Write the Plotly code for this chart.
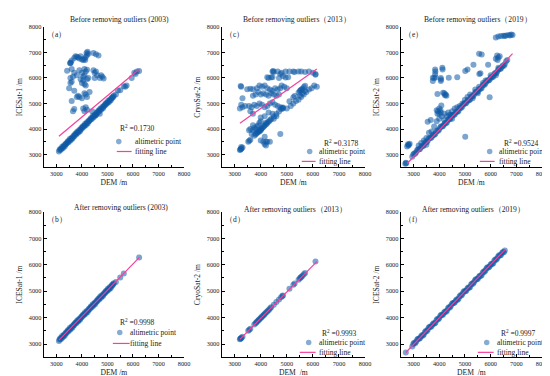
import plotly.graph_objects as go

SERIF = "Liberation Serif, Times New Roman, serif"

# ---------------- text ----------------
titles = ["Before removing outliers (2003)", "Before removing outliers（2013）", "Before removing outliers（2019）",
          "After removing outliers (2003)", "After removing outliers（2013）", "After removing outliers（2019）"]
panel_labels = ["（a）", "（c）", "（e）", "（b）", "（d）", "（f）"]
y_titles = ["ICESat-1 /m", "CryoSat-2 /m", "ICESat-2 /m", "ICESat-1 /m", "CryoSat-2 /m", "ICESat-2 /m"]
x_titles = ["DEM /m", "DEM /m", "DEM /m", "DEM /m", "DEM  /m", "DEM  /m"]
r2_values = ["0.1730", "0.3178", "0.9524", "0.9998", "0.9993", "0.9997"]
legend_names = ["altimetric point", "fitting line"]
tick_values = [3000, 4000, 5000, 6000, 7000, 8000]
axis_range = [2500, 8000]

# ---------------- 2003 ICESat-1 ----------------
dem_2003_kept = [3100, 3150, 3200, 3250, 3300, 3350, 3400, 3450, 3500, 3550, 3600, 3650, 3700, 3750, 3800,
                 3850, 3900, 3950, 4000, 4050, 4100, 4150, 4200, 4250, 4300, 4350, 4400, 4450, 4500, 4550,
                 4600, 4650, 4700, 4750, 4800, 4850, 4900, 4950, 5000, 5050, 5100, 5150, 5200, 5250,
                 5330, 5500, 5640, 6240,
                 3125, 3175, 3225, 3275, 3325, 3375, 3425, 3475, 3525, 3575, 3625, 3675, 3725, 3775, 3825,
                 3875, 3925, 3975, 4025, 4075, 4125, 4175, 4225, 4275, 4325, 4375, 4425, 4475, 4525, 4575,
                 4625, 4675, 4725, 4775, 4825, 4875, 4925, 4975, 5025, 5075, 5125, 5175, 5225]
alt_2003_kept = [3120, 3220, 3240, 3250, 3360, 3380, 3420, 3520, 3540, 3550, 3660, 3680, 3720, 3820, 3840,
                 3850, 3960, 3980, 4020, 4120, 4140, 4150, 4260, 4280, 4320, 4420, 4440, 4450, 4560, 4580,
                 4620, 4720, 4740, 4750, 4860, 4880, 4920, 5020, 5040, 5050, 5160, 5180, 5220, 5300,
                 5350, 5520, 5670, 6270,
                 3175, 3185, 3305, 3305, 3315, 3435, 3475, 3485, 3605, 3605, 3615, 3735, 3775, 3785, 3905,
                 3905, 3915, 4035, 4075, 4085, 4205, 4205, 4215, 4335, 4375, 4385, 4505, 4505, 4515, 4635,
                 4675, 4685, 4805, 4805, 4815, 4935, 4975, 4985, 5105, 5105, 5115, 5235, 5275]
dem_2003_outliers = [3700, 3750, 3800, 3850, 3900, 3950, 4000, 4050, 4100, 4150, 4200, 4220, 4180, 4130, 4250,
                     4450, 4550, 4650, 3600, 3550, 3560, 3540, 3420, 3600, 3700, 3650, 3550, 3800, 3900, 4000,
                     4050, 4050, 4100, 4150, 4200, 4250, 4200, 4100, 3950, 4000, 4100, 4150, 4450, 4500, 4550,
                     4600, 4500, 4700, 4800, 4850, 4750, 3500, 3550, 3600, 3700, 3600, 3650, 3700, 3850, 3900,
                     3800, 4000, 4150, 4200, 4100, 4300, 4050, 4100, 4150, 4200, 4400, 4550, 4700, 5750, 5700,
                     6050, 6150, 6100, 5950, 5410]
alt_2003_outliers = [6780, 6850, 6830, 6800, 6760, 6850, 6720, 6700, 6750, 6820, 6900, 7020, 6980, 6700, 6950,
                     6980, 6930, 6880, 6680, 6580, 6600, 6570, 6280, 6350, 6200, 6050, 6000, 6100, 6300, 6200,
                     6050, 5900, 6100, 6250, 5950, 6000, 6320, 6350, 5950, 5800, 5750, 5700, 6300, 6200, 6250,
                     6100, 6000, 6000, 6050, 5980, 6100, 5600, 5800, 5850, 5500, 5100, 4700, 4780, 5300, 5250,
                     5250, 5200, 5350, 5250, 5400, 5450, 4800, 4700, 4850, 4750, 4700, 4550, 4600, 5700, 5650,
                     6200, 6250, 6150, 6000, 5510]
fit_2003_before_dem = [3100, 6250]
fit_2003_before_alt = [3720, 6350]
fit_2003_after_dem = [3100, 6250]
fit_2003_after_alt = [3150, 6280]

# ---------------- 2013 CryoSat-2 ----------------
dem_2013_kept = [3200, 3220, 3240, 3260, 3300, 3520, 3560, 3600, 3750, 3800, 3830, 3860, 3900, 3930, 3960,
                 4000, 4030, 4060, 4100, 4130, 4160, 4200, 4240, 4280, 4320, 4360, 4400, 4500, 4600, 4700,
                 4780, 4830, 4850, 5100, 5250, 5300, 5450, 5500, 5530, 5560, 5600, 5650, 5700, 6100]
alt_2013_kept = [3180, 3200, 3220, 3240, 3280, 3500, 3540, 3580, 3740, 3790, 3820, 3850, 3880, 3920, 3950,
                 3990, 4010, 4050, 4080, 4120, 4150, 4190, 4220, 4270, 4300, 4350, 4390, 4490, 4590, 4690,
                 4770, 4820, 4840, 5090, 5240, 5290, 5430, 5490, 5520, 5550, 5580, 5640, 5690, 6120]
dem_2013_outliers = [4450, 4480, 4500, 4650, 4800, 4950, 5100, 5250, 5300, 5450, 5550, 5700, 5850, 6000, 6100,
                     4750, 4850, 4950, 5050, 4700, 4450, 4400, 4250, 4300,
                     3250, 3230, 3480, 3600, 3700, 3850, 3950, 4050, 4150, 4250, 4350, 4450, 4550, 4650, 4750,
                     4800, 4900, 5000, 3900, 4000, 4100, 4200, 4300, 4400, 4500, 4600, 4700, 3800, 3700,
                     3200, 3300, 3250, 3400, 3550, 3650, 3750, 3850, 3950, 4050, 4150, 4250, 4350, 4450, 4550,
                     4650, 4750, 4850, 3300, 3600, 3700, 4150, 4300, 4450, 4500, 4600,
                     5000, 5150, 5250, 5350, 5450, 5550, 5650, 5750, 5850, 5950, 6050, 6150, 5500, 5600, 5700,
                     3800, 3850, 3900, 3950, 4000, 3700, 3750, 3650, 4000, 3950, 4000, 4200, 3700, 3600, 3550,
                     3250, 4000, 4100, 4200, 4250, 4350, 4150, 4200, 4150, 4750]
alt_2013_outliers = [6250, 6270, 6230, 6250, 6200, 6250, 6250, 6250, 6230, 6250, 6250, 6230, 6250, 6200, 6150,
                     6150, 6080, 6020, 6030, 6000, 6030, 6030, 6030, 6000,
                     5650, 5680, 5560, 5580, 5560, 5600, 5700, 5650, 5700, 5600, 5550, 5500, 5600, 5550, 5600,
                     5700, 5650, 5600, 5450, 5350, 5400, 5350, 5300, 5400, 5350, 5300, 5350, 5350, 5300,
                     4800, 4850, 4950, 4900, 4900, 4850, 4950, 4900, 5000, 4950, 4850, 4900, 5000, 5050, 4950,
                     4900, 4850, 4800, 5200, 4700, 4600, 4500, 4650, 4600, 4400, 4500,
                     4800, 4900, 5000, 5100, 5150, 5250, 5350, 5450, 5550, 5600, 5700, 5650, 5300, 5400, 5500,
                     4000, 4100, 4150, 4250, 4300, 3950, 4050, 3800, 3950, 3900, 4450, 4250, 4150, 4000, 3950,
                     3300, 3550, 3500, 3500, 3500, 3500, 3400, 3350, 3700, 3800]
fit_2013_before_dem = [3200, 6150]
fit_2013_before_alt = [4230, 6350]
fit_2013_after_dem = [3200, 6150]
fit_2013_after_alt = [3180, 6120]

# ---------------- 2019 ICESat-2 ----------------
dem_2019_kept = [2700, 2950, 3025, 3100, 3175, 3250, 3325, 3400, 3475, 3550, 3625, 3700, 3775, 3850, 3925,
                 4000, 4075, 4150, 4225, 4300, 4375, 4450, 4525, 4600, 4675, 4750, 4825, 4900, 4975, 5050,
                 5125, 5200, 5275, 5350, 5425, 5500, 5575, 5650, 5725, 5800, 5875, 5950, 6025, 6100, 6175,
                 6250, 6325, 6400, 6475, 6550,
                 2990, 3065, 3140, 3215, 3290, 3365, 3440, 3515, 3590, 3665, 3740, 3815, 3890, 3965, 4040,
                 4115, 4190, 4265, 4340, 4415, 4490, 4565, 4640, 4715, 4790, 4865, 4940, 5015, 5090, 5165,
                 5240, 5315, 5390, 5465, 5540, 5615, 5690, 5765, 5840, 5915, 5990, 6065, 6140, 6215, 6290,
                 6365, 6440, 6515]
alt_2019_kept = [2680, 2910, 3045, 3090, 3205, 3220, 3335, 3360, 3495, 3540, 3655, 3670, 3785, 3810, 3945,
                 3990, 4105, 4120, 4235, 4260, 4395, 4440, 4555, 4570, 4685, 4710, 4845, 4890, 5005, 5020,
                 5135, 5160, 5295, 5340, 5455, 5470, 5585, 5610, 5745, 5790, 5905, 5920, 6035, 6060, 6195,
                 6240, 6355, 6370, 6485, 6540,
                 3000, 3035, 3165, 3200, 3290, 3325, 3450, 3485, 3615, 3650, 3740, 3775, 3900, 3935, 4065,
                 4100, 4190, 4225, 4350, 4385, 4515, 4550, 4640, 4675, 4800, 4835, 4965, 5000, 5090, 5125,
                 5250, 5285, 5415, 5450, 5540, 5575, 5700, 5735, 5865, 5900, 5990, 6025, 6150, 6185, 6315,
                 6350, 6440, 6475]
dem_2019_outliers = [6200, 6300, 6400, 6500, 6550, 6600, 6700, 6800, 6850, 6750,
                     5550, 5650, 6250, 6300, 6200, 6270, 6350,
                     5330, 5900, 5010, 5100, 5560, 5600, 4370, 4700,
                     3840, 3850, 3840, 3750, 3800, 3860, 4060, 4070, 4060, 4120, 4130, 3750,
                     3930, 4150, 4200, 4250, 4280, 4220,
                     4080, 4050, 4060, 4000, 3930, 3900, 3950, 4000,
                     3600, 3800, 3900, 4000, 4100, 4200, 4350, 4500, 4600, 4300, 4450, 3550, 3670,
                     5960, 5010,
                     2780, 2800, 2820, 2750, 2850,
                     6600, 6650, 5300, 5550, 5800, 4900, 5200, 3300, 3500, 4700, 5000, 2680, 2720,
                     3200, 3400, 3700, 4200, 4400, 4800, 5100, 5400, 5700, 6000, 6300, 3500, 4500, 5500, 6200]
alt_2019_outliers = [7580, 7620, 7640, 7650, 7640, 7660, 7680, 7700, 7680, 7660,
                     6950, 6920, 6880, 6800, 6750, 6700, 6850,
                     6520, 6520, 6270, 6330, 6150, 6180, 6010, 6030,
                     6330, 6250, 6140, 6010, 6000, 6020, 6000, 5940, 5880, 6400, 6330, 5880,
                     5370, 5420, 5400, 5350, 5300, 5320,
                     4920, 4730, 4650, 4600, 4600, 4730, 4700, 4800,
                     3850, 4100, 4300, 4400, 4500, 4600, 4650, 4700, 4800, 4500, 4550, 4280, 4350,
                     5240, 3700,
                     3400, 3350, 3380, 3320, 3420,
                     6650, 6700, 5200, 5650, 5900, 5000, 5350, 3450, 3650, 4850, 5150, 2640, 2660,
                     3350, 3550, 3900, 4350, 4550, 4900, 5250, 5550, 5800, 6100, 6400, 3380, 4400, 5400, 6100]
fit_2019_before_dem = [2750, 6850]
fit_2019_before_alt = [2650, 6950]
fit_2019_after_dem = [2700, 6550]
fit_2019_after_alt = [2680, 6560]

# ---------------- assemble panels (order: a, c, e, b, d, f) ----------------
panels = [
    (dem_2003_kept + dem_2003_outliers, alt_2003_kept + alt_2003_outliers, fit_2003_before_dem, fit_2003_before_alt),
    (dem_2013_kept + dem_2013_outliers, alt_2013_kept + alt_2013_outliers, fit_2013_before_dem, fit_2013_before_alt),
    (dem_2019_kept + dem_2019_outliers, alt_2019_kept + alt_2019_outliers, fit_2019_before_dem, fit_2019_before_alt),
    (dem_2003_kept, alt_2003_kept, fit_2003_after_dem, fit_2003_after_alt),
    (dem_2013_kept, alt_2013_kept, fit_2013_after_dem, fit_2013_after_alt),
    (dem_2019_kept, alt_2019_kept, fit_2019_after_dem, fit_2019_after_alt),
]

W, H = 550, 376
col_px = [(36, 178), (216, 361), (397, 540)]
row_px = [(15, 157), (202, 349)]
title_px = [(113, 8), (292, 8), (475, 8), (114, 198), (291, 200), (471, 200)]
# legend layout in pixels: (R2 text left, R2 y, marker cx, marker cy, item text left, line x0, line x1, line y)
legend_px = [(112, 117, 112, 131, 127, 110, 125, 141),
             (318, 132, 305, 141, 313, 297, 311, 151),
             (500, 132, 487, 141, 495, 477, 492, 151),
             (112, 313, 113, 324, 122, 106, 123, 335),
             (316, 324, 304, 334, 313, 295, 311, 344),
             (497, 324, 484, 334, 493, 475, 491, 344)]

POINT_COLOR = "rgb(15,90,165)"
POINT_OPACITY = 0.55
LINE_COLOR = "#f5409c"
TXT = "#222"

fig = go.Figure()
layout = dict(width=W, height=H, margin=dict(l=0, r=0, t=0, b=0),
              paper_bgcolor="white", plot_bgcolor="white", showlegend=False,
              font=dict(family=SERIF, size=7.6, color=TXT))
annotations = []
shapes = []


def px_x(v):
    return v / W


def px_y(v):
    return 1 - v / H


for i, (dx, dy, fx, fy) in enumerate(panels):
    n = i + 1
    r, c = divmod(i, 3)
    xs = "" if n == 1 else str(n)
    fig.add_trace(go.Scatter(x=dx, y=dy, mode="markers", name=legend_names[0],
                             marker=dict(size=6, color=POINT_COLOR, opacity=POINT_OPACITY, line=dict(width=0)),
                             xaxis="x" + xs, yaxis="y" + xs))
    fig.add_trace(go.Scatter(x=fx, y=fy, mode="lines", name=legend_names[1],
                             line=dict(color=LINE_COLOR, width=1.2),
                             xaxis="x" + xs, yaxis="y" + xs))
    x0, x1 = col_px[c]
    y0, y1 = row_px[r]
    common = dict(range=axis_range, tickvals=tick_values, showline=True, linecolor="black", linewidth=1,
                  ticks="inside", ticklen=3, tickcolor="black", tickwidth=1, showgrid=False, zeroline=False,
                  tickfont=dict(family=SERIF, size=6.3, color=TXT),
                  minor=dict(dtick=500, tick0=2500, ticks="inside", ticklen=2, tickcolor="black", showgrid=False))
    layout["xaxis" + xs] = dict(common, domain=[px_x(x0), px_x(x1)], anchor="y" + xs,
                                title=dict(text=x_titles[i], font=dict(family=SERIF, size=7.6, color=TXT), standoff=3))
    layout["yaxis" + xs] = dict(common, domain=[px_y(y1), px_y(y0)], anchor="x" + xs,
                                title=dict(text=y_titles[i], font=dict(family=SERIF, size=7.6, color=TXT), standoff=5))

    tx, ty = title_px[i]
    annotations.append(dict(text=titles[i], x=px_x(tx), y=px_y(ty), xref="paper", yref="paper",
                            showarrow=False, xanchor="center", yanchor="middle",
                            font=dict(family=SERIF, size=7.6, color=TXT)))
    annotations.append(dict(text=panel_labels[i], x=0.01, y=0.99, xref=f"x{xs} domain", yref=f"y{xs} domain",
                            showarrow=False, xanchor="left", yanchor="top",
                            font=dict(family=SERIF, size=7.5, color=TXT)))

    # legend block (R2, marker key, line key)
    rl, ry, mcx, mcy, tl, lx0, lx1, ly = legend_px[i]
    annotations.append(dict(text="R<sup>2</sup> =" + r2_values[i], x=px_x(rl), y=px_y(ry), xref="paper",
                            yref="paper", showarrow=False, xanchor="left", yanchor="middle", borderpad=0,
                            font=dict(family=SERIF, size=7.5, color=TXT)))
    annotations.append(dict(text=legend_names[0], x=px_x(tl), y=px_y(mcy), xref="paper", yref="paper",
                            showarrow=False, xanchor="left", yanchor="middle", borderpad=0,
                            font=dict(family=SERIF, size=7.5, color=TXT)))
    annotations.append(dict(text=legend_names[1], x=px_x(tl), y=px_y(ly), xref="paper", yref="paper",
                            showarrow=False, xanchor="left", yanchor="middle", borderpad=0,
                            font=dict(family=SERIF, size=7.5, color=TXT)))
    shapes.append(dict(type="circle", xref="paper", yref="paper",
                       x0=px_x(mcx - 2.8), x1=px_x(mcx + 2.8), y0=px_y(mcy + 2.8), y1=px_y(mcy - 2.8),
                       fillcolor=POINT_COLOR, opacity=0.5, line=dict(width=0)))
    shapes.append(dict(type="line", xref="paper", yref="paper",
                       x0=px_x(lx0), x1=px_x(lx1), y0=px_y(ly), y1=px_y(ly),
                       line=dict(color=LINE_COLOR, width=1.2)))

layout["annotations"] = annotations
layout["shapes"] = shapes
fig.update_layout(**layout)
fig.write_html("out.html")
